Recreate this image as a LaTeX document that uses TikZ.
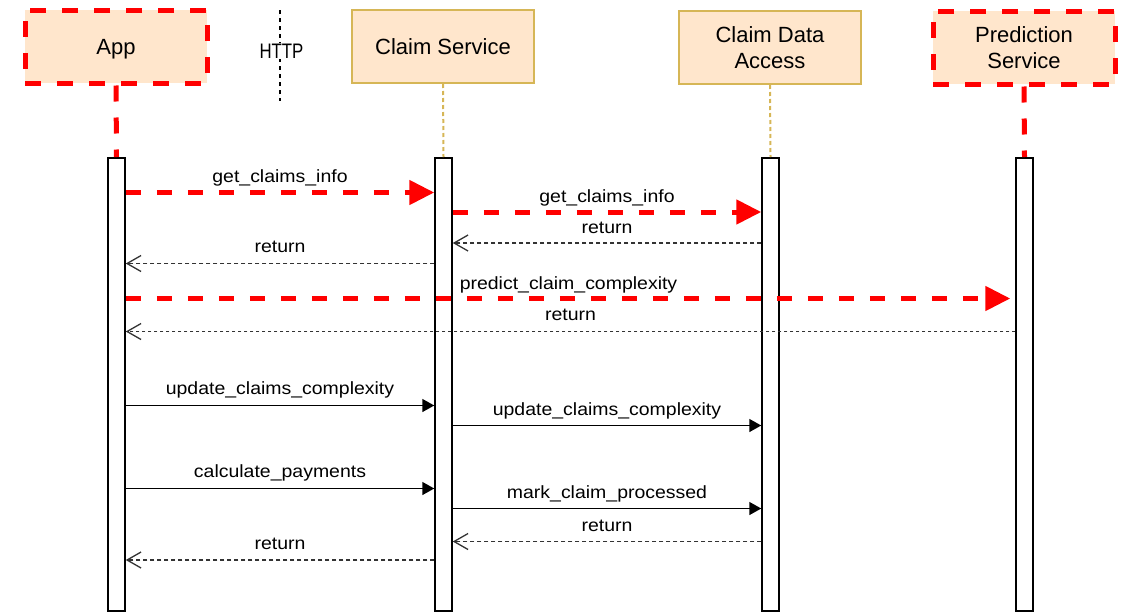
\documentclass[tikz,border=0pt]{standalone}
\usepackage{fontspec}
\setmainfont{Liberation Sans}
\newfontfamily\msgfont[FakeStretch=1.1]{Liberation Sans}
\newfontfamily\legendfont[FakeStretch=0.8]{Liberation Sans}
\usetikzlibrary{arrows.meta}

\definecolor{peach}{HTML}{FFE6CC}
\definecolor{gold}{HTML}{D6B656}
\definecolor{httpred}{HTML}{FF0000}

\tikzset{
  header/.style={rectangle, fill=peach, minimum width=182pt, minimum height=73pt,
    inner sep=0pt, align=center, font=\fontsize{22}{25.3}\selectfont},
  oneline/.style={text height=19.9pt, text depth=4.66pt},
  plainbox/.style={header, draw=gold, line width=2pt},
  redbox/.style={header, draw=httpred, line width=5pt, dash pattern=on 16pt off 16pt},
  actbar/.style={rectangle, draw=black, fill=white, line width=1.5pt,
    minimum width=17pt, minimum height=453pt, inner sep=0pt, anchor=north},
  goldlife/.style={draw=gold, line width=2pt, dash pattern=on 4pt off 3pt},
  redlife/.style={draw=httpred, line width=5pt, dash pattern=on 16pt off 16pt},
  redcall/.style={draw=httpred, line width=5pt, dash pattern=on 15pt off 16pt,
    -{Triangle[length=25pt,width=24pt]}},
  call/.style={draw=black, line width=1.5pt, -{Triangle[length=12pt,width=13pt]}},
  reply/.style={draw=black!80, line width=1.3pt, dash pattern=on 4pt off 3pt,
    -{Straight Barb[length=14pt,width=16pt,line width=1.3pt]}},
  dotreply/.style={reply, dash pattern=on 3pt off 3pt},
  msg/.style={font=\msgfont\fontsize{17.7}{20}\selectfont, anchor=base, inner sep=0pt},
}

\begin{document}
\begin{tikzpicture}[x=1pt, y=-1pt]
  \useasboundingbox (0,0) rectangle (1124,613);

  % participants
  \node[redbox, oneline]   (app)  at (116,46.5)  {App};
  \node[plainbox, oneline] (cs)   at (443,46.5)  {Claim Service};
  \node[plainbox] (cda)  at (770,47.5)  {Claim Data\\Access};
  \node[redbox]   (pred) at (1024,47.5) {Prediction\\Service};

  % HTTP legend
  \coordinate (httptop) at (280,10);
  \coordinate (httpbot) at (280,101);
  \draw[black, line width=1.2pt, dash pattern=on 4pt off 4pt] (httptop) -- (httpbot);
  \node[fill=white, inner sep=1pt, anchor=base, font=\legendfont\fontsize{21}{24}\selectfont] (http) at (281.5,58.3) {HTTP};

  % activation bars
  \node[actbar] (appbar)  at (116.5,157)  {};
  \node[actbar] (csbar)   at (443.5,157)  {};
  \node[actbar] (cdabar)  at (770.5,157)  {};
  \node[actbar] (predbar) at (1024.5,157) {};

  % lifelines
  \draw[redlife]  (app.south)  -- (appbar.north);
  \draw[goldlife] (cs.south)   -- (csbar.north);
  \draw[goldlife] (cda.south)  -- (cdabar.north);
  \draw[redlife]  (pred.south) -- (predbar.north);

  % messages
  \draw[redcall] (appbar.east |- 0,192.5) -- node[msg, yshift=10pt] {get\_claims\_info} (csbar.west |- 0,192.5);
  \draw[redcall] (csbar.east |- 0,212) -- node[msg, yshift=10pt] {get\_claims\_info} (cdabar.west |- 0,212);
  \draw[reply] (cdabar.west |- 0,243) -- node[msg, yshift=10pt] {return} (csbar.east |- 0,243);
  \draw[reply] (csbar.west |- 0,263.5) -- node[msg, yshift=11pt] {return} (appbar.east |- 0,263.5);
  \draw[redcall, shorten >=5pt] (appbar.east |- 0,298.5) -- node[msg, yshift=9pt, xshift=-2pt] {predict\_claim\_complexity} (predbar.west |- 0,298.5);
  \draw[dotreply] (predbar.west |- 0,331.5) -- node[msg, yshift=11pt] {return} (appbar.east |- 0,331.5);
  \draw[call] (appbar.east |- 0,405.5) -- node[msg, yshift=11pt] {update\_claims\_complexity} (csbar.west |- 0,405.5);
  \draw[call] (csbar.east |- 0,425.5) -- node[msg, yshift=10pt] {update\_claims\_complexity} (cdabar.west |- 0,425.5);
  \draw[call] (appbar.east |- 0,488.5) -- node[msg, yshift=11pt] {calculate\_payments} (csbar.west |- 0,488.5);
  \draw[call] (csbar.east |- 0,508.5) -- node[msg, yshift=10pt] {mark\_claim\_processed} (cdabar.west |- 0,508.5);
  \draw[reply] (cdabar.west |- 0,541.5) -- node[msg, yshift=10pt] {return} (csbar.east |- 0,541.5);
  \draw[reply] (csbar.west |- 0,560) -- node[msg, yshift=11pt] {return} (appbar.east |- 0,560);
\end{tikzpicture}
\end{document}
